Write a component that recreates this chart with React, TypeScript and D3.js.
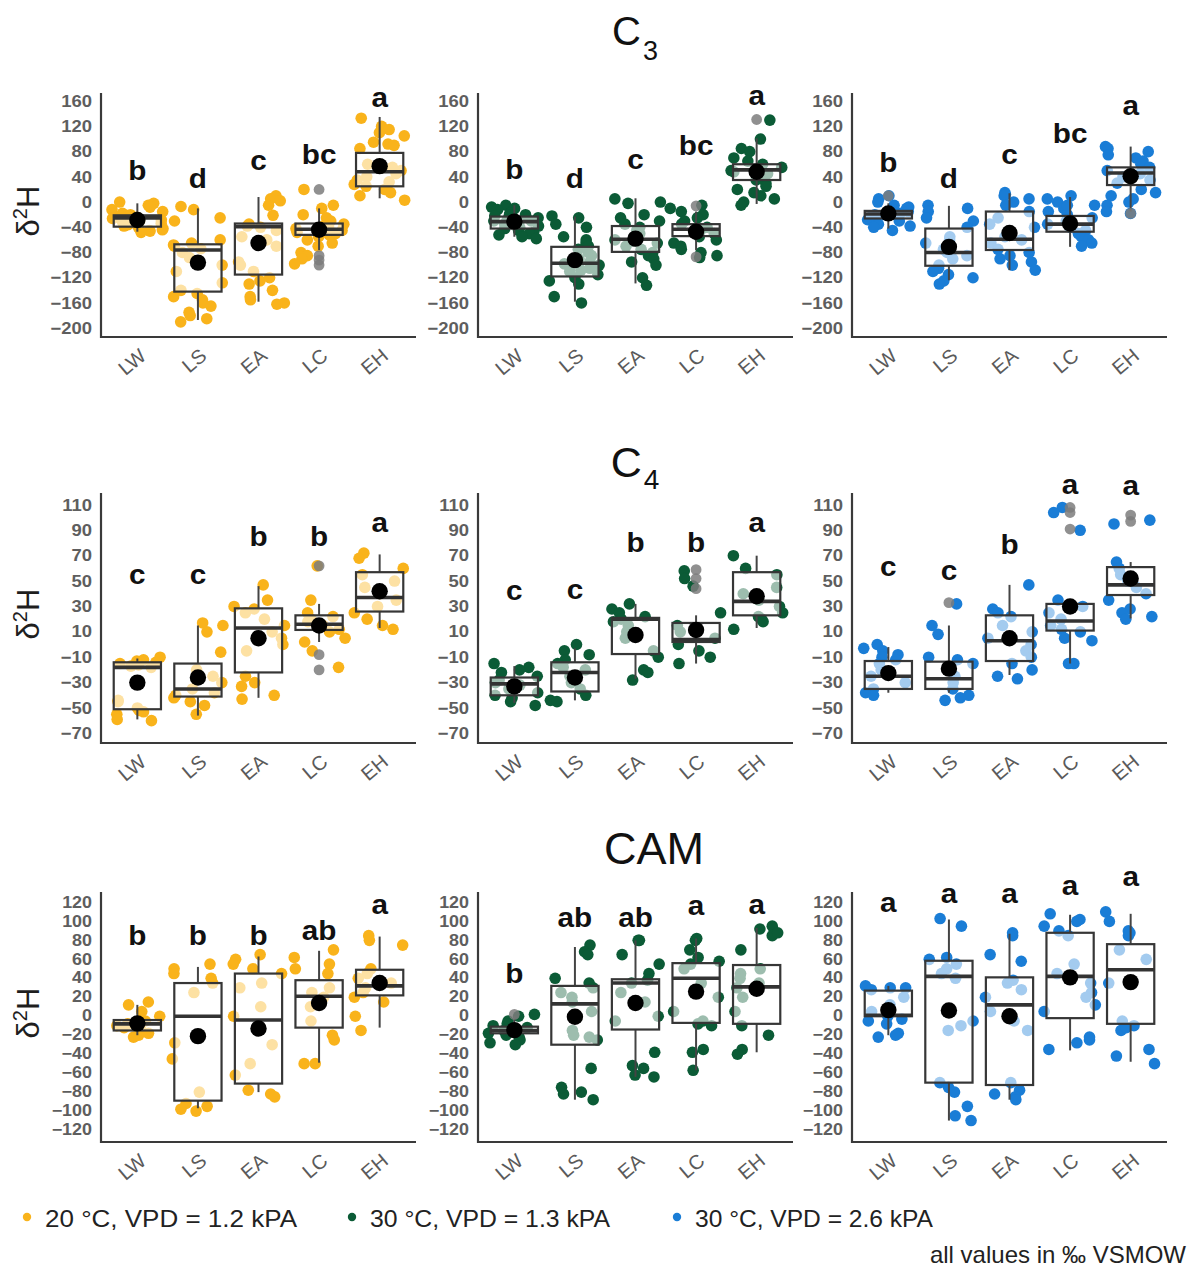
import React from "react";
import * as d3 from "d3";

// ---------- shared categories, labels and scales ----------
const categories = ["LW", "LS", "EA", "LC", "EH"];
const conditionLabels = ["20 °C, VPD = 1.2 kPA", "30 °C, VPD = 1.3 kPA", "30 °C, VPD = 2.6 kPA"];
const conditionColors = ["#F9B31B", "#0B5B36", "#1A7DD6"];
const pathwayNames = [
  { main: "C", sub: "3" },
  { main: "C", sub: "4" },
  { main: "CAM", sub: "" },
];

const ticksC3 = [160, 120, 80, 40, 0, -40, -80, -120, -160, -200];
const ticksC4 = [110, 90, 70, 50, 30, 10, -10, -30, -50, -70];
const ticksCAM = [120, 100, 80, 60, 40, 20, 0, -20, -40, -60, -80, -100, -120];
const domainC3 = [-214, 173];
const domainC4 = [-77.6, 119.4];
const domainCAM = [-132.6, 131];

// box statistics per category: [lower whisker, Q1, median, Q3, upper whisker, mean]
// ---------- C3 ----------
const c3Box20 = [
  [-47, -39, -25, -21, -2, -28.5],
  [-187, -142, -76, -67, -10, -96],
  [-158, -115, -39, -34, 8, -65],
  [-76, -52, -43, -34, -10, -44],
  [6, 25, 48, 78, 135, 57],
];
const c3Points20 = [
  [0, -2, -5, -8, -12, -15, -18, -20, -22, -24, -26, -28, -30, -32, -34, -36, -38, -40, -42, -44, -45, -46, -48, -30, -25],
  [-7, -12, -25, -30, -65, -68, -70, -74, -80, -88, -100, -110, -128, -140, -145, -150, -155, -160, -165, -175, -185, -190, -180, -60],
  [10, 5, 2, -5, -21, -35, -38, -40, -45, -55, -60, -70, -95, -100, -110, -125, -130, -140, -150, -155, -160, -162, -120],
  [20, -5, -10, -20, -25, -30, -35, -38, -40, -42, -45, -48, -50, -52, -55, -60, -65, -70, -80, -85, -90, -98],
  [133, 120, 115, 110, 105, 95, 92, 90, 85, 60, 55, 50, 45, 40, 35, 32, 28, 25, 20, 15, 10, 3],
];
const c3Out20 = [[], [], [], [20, -85, -92, -100], []];
const c3Letters20 = ["b", "d", "c", "bc", "a"];
const c3LetterY20 = [35, 23, 51, 61, 151];

const c3Box13 = [
  [-55, -42, -31, -23, -5, -31],
  [-158, -118, -97, -71, -23, -92],
  [-129, -79, -59, -38, 6, -58],
  [-76, -54, -43, -35, -15, -47],
  [-3, 35, 51, 60, 101, 48],
];
const c3Points13 = [
  [-5, -8, -10, -12, -15, -18, -20, -22, -25, -28, -30, -33, -35, -38, -40, -42, -45, -48, -50, -52, -55, -58, -20, -30],
  [-22, -25, -35, -40, -55, -60, -65, -70, -75, -80, -85, -90, -95, -100, -105, -110, -115, -120, -125, -130, -150, -160, -98, -108],
  [5, 0, -2, -20, -25, -30, -35, -40, -45, -50, -55, -60, -65, -70, -75, -80, -85, -90, -95, -100, -120, -132, -62],
  [-5, -10, -15, -20, -25, -30, -35, -40, -45, -50, -55, -60, -65, -70, -75, -80, -88, -85, -45],
  [130, 100, 85, 80, 70, 65, 60, 55, 50, 45, 40, 35, 30, 25, 20, 15, 10, 5, 0, -5, 48],
];
const c3Out13 = [[], [], [], [-6, -87], [131]];
const c3Letters13 = ["b", "d", "c", "bc", "a"];
const c3LetterY13 = [37, 22, 53, 74, 154];

const c3Box26 = [
  [-42, -26, -19, -14, -2, -18],
  [-124, -101, -80, -42, -6, -71],
  [-108, -76, -59, -15, 14, -49],
  [-71, -47, -35, -22, 8, -34],
  [-15, 27, 46, 55, 88, 41],
];
const c3Points26 = [
  [10, 5, 0, -5, -8, -10, -12, -15, -18, -20, -22, -25, -28, -30, -32, -35, -38, -40, -45, -20, -15],
  [-5, -10, -15, -25, -30, -40, -55, -60, -65, -75, -80, -90, -100, -105, -110, -115, -120, -125, -130, -85],
  [15, 12, 10, 5, 0, -5, -15, -25, -35, -40, -55, -60, -65, -75, -80, -85, -90, -95, -100, -108],
  [10, 5, 0, -5, -10, -15, -20, -25, -30, -35, -40, -45, -50, -55, -60, -65, -70, -5, -38],
  [88, 85, 80, 75, 70, 65, 60, 55, 50, 45, 40, 35, 30, 20, 15, 10, 5, 0, -5, -15, -18],
];
const c3Out26 = [[10], [], [], [], [-18]];
const c3Letters26 = ["b", "d", "c", "bc", "a"];
const c3LetterY26 = [48, 23, 61, 93, 138];

// ---------- C4 ----------
const c4Box20 = [
  [-59, -51, -18, -14, -11, -30],
  [-56, -41, -35, -15, 15, -26],
  [-42, -22, 13, 28.5, 46, 5],
  [2, 11.5, 16, 23, 32, 15],
  [13, 26, 37, 57, 71, 42],
];
const c4Points20 = [
  [-10, -12, -13, -14, -15, -16, -17, -18, -44, -45, -50, -52, -53, -55, -59, -60],
  [17, 15, 10, -6, -20, -25, -30, -35, -38, -40, -42, -45, -48, -55],
  [47, 35, 30, 28, 25, 20, 15, 10, 5, 0, -5, -25, -30, -33, -40, -43],
  [62, 35, 25, 22, 20, 18, 15, 12, 10, 5, 2, -5, -18],
  [72, 68, 60, 55, 50, 45, 40, 35, 30, 25, 20, 15, 12],
];
const c4Out20 = [[], [], [], [62, -8, -20], []];
const c4Letters20 = ["c", "c", "b", "b", "a"];
const c4LetterY20 = [48, 48, 78, 78, 89];

const c4Box13 = [
  [-46, -40, -31, -26, -17, -33],
  [-44, -37, -22, -14, -3, -26],
  [-27, -7.5, 20, 21, 32, 7.5],
  [-15, 2, 4, 17, 23, 11.5],
  [13, 23, 34, 57, 70, 38],
];
const c4Points13 = [
  [-15, -18, -20, -22, -25, -28, -30, -32, -35, -38, -40, -42, -45, -48],
  [0, -5, -8, -12, -15, -18, -20, -25, -30, -35, -40, -44, -45],
  [32, 28, 25, 22, 20, 18, 15, 10, 5, -5, -10, -20, -22, -28],
  [58, 52, 46, 25, 15, 10, 5, 0, -5, -10, -15],
  [70, 60, 55, 45, 40, 35, 30, 25, 22, 20, 18, 12],
];
const c4Out13 = [[], [], [], [59, 52, 44], []];
const c4Letters13 = ["c", "c", "b", "b", "a"];
const c4LetterY13 = [35, 36, 73, 73, 89];

const c4Box26 = [
  [-38, -35, -25, -13, -2, -22.5],
  [-38, -35, -27, -13.5, 15, -19],
  [-24, -13, 3, 23, 47, 5],
  [-15, 11, 18.5, 32, 35, 30],
  [20.5, 39, 47, 61, 65, 52],
];
const c4Points26 = [
  [0, -3, -5, -8, -10, -12, -15, -20, -25, -30, -35, -38, -40],
  [32, 15, 8, -10, -12, -15, -20, -25, -30, -35, -40, -42, -44],
  [47, 28, 25, 22, 15, 10, 5, 0, -5, -10, -15, -20, -25, -27],
  [108, 104, 90, 35, 30, 25, 20, 15, 12, 10, 5, 3, -15, -15],
  [98, 95, 65, 60, 55, 50, 45, 40, 35, 28, 25, 22, 20],
];
const c4Out26 = [[], [33], [], [108, 104, 91], [102, 97]];
const c4Letters26 = ["c", "c", "b", "a", "a"];
const c4LetterY26 = [54, 51, 71, 119, 118];

// ---------- CAM ----------
const camBox20 = [
  [-20, -15, -8, -4, 12, -7.5],
  [-97, -89, 0, 35, 52, -21],
  [-80, -71, -4, 45, 63, -13],
  [-49, -12, 21, 38, 69, 14],
  [-12, 22, 32, 49, 84, 35],
];
const camPoints20 = [
  [15, 12, 5, 0, -5, -8, -10, -12, -15, -18, -20, -22],
  [55, 50, 45, 40, 35, 25, -28, -45, -80, -92, -95, -98, -100],
  [65, 60, 55, 50, 45, 35, 30, 10, 0, -30, -50, -62, -82, -85, -78],
  [70, 62, 55, 50, 45, 30, 25, 20, 10, -5, -20, -25, -50, -50],
  [85, 80, 75, 50, 45, 40, 35, 30, 25, 20, 15, 0, -15],
];
const camOut20 = [[], [], [], [], []];
const camLetters20 = ["b", "b", "b", "ab", "a"];
const camLetterY20 = [75, 75, 75, 80, 108];

const camBox13 = [
  [-23, -18, -15, -11, 0, -14.6],
  [-88, -30, 13, 32, 73, -0.5],
  [-64, -14, 35, 39, 80, 14],
  [-57, -7, 40, 56, 82, 26],
  [-38, -8, 31, 54, 93, 29],
];
const camPoints13 = [
  [2, 0, -5, -8, -10, -12, -15, -18, -20, -22, -25, -28, -30],
  [75, 68, 65, 40, 35, 30, 25, 20, 15, 5, -15, -20, -25, -22, -55, -80, -82, -75, -88],
  [80, 80, 65, 55, 45, 38, 35, 25, 15, 0, -5, -38, -52, -55, -62, -64],
  [82, 80, 70, 62, 58, 55, 50, 35, 20, 5, -5, -8, -10, -38, -35, -57],
  [95, 92, 85, 88, 70, 50, 45, 40, 35, 30, 20, 5, -10, -20, -35, -40],
];
const camOut13 = [[2], [], [], [], []];
const camLetters13 = ["b", "ab", "ab", "a", "a"];
const camLetterY13 = [35, 94, 94, 107, 108];

const camBox26 = [
  [-20, 0, 1, 27, 32, 6.5],
  [-110, -70, 42, 58.5, 102, 6],
  [-88, -72.5, 12, 41, 87, 0],
  [-36, -2, 42, 88, 107, 41],
  [-48, -8, 49, 76, 108, 36],
];
const camPoints26 = [
  [32, 30, 28, 20, 12, 5, 0, -3, -5, -8, -18, -20, -22, 30],
  [103, 95, 62, 60, 55, 50, 45, 40, -5, -10, -15, -70, -75, -80, -95, -105, -110],
  [88, 85, 65, 58, 38, 35, 28, 20, 5, -5, -15, -70, -78, -82, -85, -88],
  [108, 102, 100, 95, 90, 85, 55, 45, 35, 25, 20, 5, 12, -25, -28, -35, -22],
  [110, 100, 90, 85, 88, 70, 60, 35, -5, -10, -15, -12, -35, -42, -50],
];
const camOut26 = [[], [], [], [], []];
const camLetters26 = ["a", "a", "a", "a", "a"];
const camLetterY26 = [110, 119, 119, 128, 137];

const legendNote = "all values in ‰ VSMOW";

type PanelData = {
  boxes: number[][];
  points: number[][];
  outliers: number[][];
  letters: string[];
  letterY: number[];
};

const rows = [
  {
    ticks: ticksC3,
    domain: domainC3,
    panels: [
      { boxes: c3Box20, points: c3Points20, outliers: c3Out20, letters: c3Letters20, letterY: c3LetterY20 },
      { boxes: c3Box13, points: c3Points13, outliers: c3Out13, letters: c3Letters13, letterY: c3LetterY13 },
      { boxes: c3Box26, points: c3Points26, outliers: c3Out26, letters: c3Letters26, letterY: c3LetterY26 },
    ],
  },
  {
    ticks: ticksC4,
    domain: domainC4,
    panels: [
      { boxes: c4Box20, points: c4Points20, outliers: c4Out20, letters: c4Letters20, letterY: c4LetterY20 },
      { boxes: c4Box13, points: c4Points13, outliers: c4Out13, letters: c4Letters13, letterY: c4LetterY13 },
      { boxes: c4Box26, points: c4Points26, outliers: c4Out26, letters: c4Letters26, letterY: c4LetterY26 },
    ],
  },
  {
    ticks: ticksCAM,
    domain: domainCAM,
    panels: [
      { boxes: camBox20, points: camPoints20, outliers: camOut20, letters: camLetters20, letterY: camLetterY20 },
      { boxes: camBox13, points: camPoints13, outliers: camOut13, letters: camLetters13, letterY: camLetterY13 },
      { boxes: camBox26, points: camPoints26, outliers: camOut26, letters: camLetters26, letterY: camLetterY26 },
    ],
  },
];

// ---------- layout ----------
const FONT = "'Liberation Sans', Arial, Helvetica, sans-serif";
const colLeft = [101, 478, 852];
const plotWidth = 315;
const rowBounds = [
  [93, 337],
  [493, 743],
  [892, 1142],
];
const titleLayout = [
  { x: 635, y: 45, size: 40, subSize: 27, subDy: 15 },
  { x: 635, y: 477, size: 43, subSize: 28, subDy: 12 },
  { x: 654, y: 864, size: 45, subSize: 28, subDy: 12 },
];
const axisColor = "#3a3a3a";
const tickColor = "#5e5e5e";

function Panel({
  data,
  color,
  left,
  top,
  bottom,
  ticks,
  domain,
  seed,
  showTitle,
  tickFont,
}: {
  data: PanelData;
  color: string;
  left: number;
  top: number;
  bottom: number;
  ticks: number[];
  domain: number[];
  seed: number;
  showTitle: boolean;
  tickFont: number;
}) {
  const x = d3.scalePoint<string>().domain(categories).range([left, left + plotWidth]).padding(0.6);
  const y = d3.scaleLinear().domain(domain).range([bottom, top]);
  const step = x.step();
  const boxW = step * 0.78;
  // fixed-seed horizontal jitter, as with geom_jitter
  const rand = d3.randomLcg(seed);

  const jittered = categories.flatMap((cat, ci) =>
    data.points[ci].map((v, i) => ({
      key: `${cat}-${i}`,
      cx: (x(cat) as number) + (rand() * 2 - 1) * 0.43 * step,
      cy: y(v),
    }))
  );

  return (
    <g>
      {showTitle && (
        <text
          transform={`translate(${left - 62},${(top + bottom) / 2 - 4}) rotate(-90)`}
          textAnchor="middle"
          fontSize={31}
          fill="#1e1e1e"
          fontFamily={FONT}
        >
          δ<tspan fontSize={20} dy={-12}>2</tspan>
          <tspan dy={12}>H</tspan>
        </text>
      )}

      {/* y tick labels */}
      {ticks.map((t) => (
        <text
          key={t}
          transform={`translate(${left - 9},${y(t)}) scale(1.12,1)`}
          textAnchor="end"
          dominantBaseline="central"
          fontSize={tickFont}
          fontWeight="bold"
          fill={tickColor}
          fontFamily={FONT}
        >
          {t < 0 ? `\u2212${Math.abs(t)}` : t}
        </text>
      ))}

      {/* x tick labels */}
      {categories.map((cat) => (
        <text
          key={cat}
          transform={`translate(${(x(cat) as number) + 10},${bottom + 21}) rotate(-40)`}
          textAnchor="end"
          fontSize={20}
          fill="#5a5a5a"
          fontFamily={FONT}
        >
          {cat}
        </text>
      ))}

      {/* raw observations */}
      {jittered.map((p) => (
        <circle key={p.key} cx={p.cx} cy={p.cy} r={5.8} fill={color} />
      ))}

      {/* boxplots */}
      {categories.map((cat, ci) => {
        const [lo, q1, med, q3, hi] = data.boxes[ci];
        const cx = x(cat) as number;
        return (
          <g key={cat}>
            <line x1={cx} x2={cx} y1={y(q3)} y2={y(hi)} stroke="#444" strokeWidth={2} />
            <line x1={cx} x2={cx} y1={y(q1)} y2={y(lo)} stroke="#444" strokeWidth={2} />
            <rect
              x={cx - boxW / 2}
              y={y(q3)}
              width={boxW}
              height={y(q1) - y(q3)}
              fill="#ffffff"
              fillOpacity={0.6}
              stroke="#363636"
              strokeWidth={2.2}
            />
            <line
              x1={cx - boxW / 2}
              x2={cx + boxW / 2}
              y1={y(med)}
              y2={y(med)}
              stroke="#333"
              strokeWidth={3.6}
            />
            {data.outliers[ci].map((v, i) => (
              <circle key={i} cx={cx} cy={y(v)} r={5.4} fill="#7d7d7d" fillOpacity={0.85} />
            ))}
          </g>
        );
      })}

      {/* group means */}
      {categories.map((cat, ci) => (
        <circle key={cat} cx={x(cat) as number} cy={y(data.boxes[ci][5])} r={8.2} fill="#000" />
      ))}

      {/* significance letters */}
      {categories.map((cat, ci) => (
        <text
          key={cat}
          transform={`translate(${x(cat) as number},${y(data.letterY[ci])}) scale(1.1,1)`}
          textAnchor="middle"
          fontSize={27}
          fontWeight="bold"
          fill="#111"
          fontFamily={FONT}
        >
          {data.letters[ci]}
        </text>
      ))}

      {/* axes */}
      <line x1={left} x2={left} y1={top} y2={bottom + 1} stroke={axisColor} strokeWidth={2.2} />
      <line x1={left - 1} x2={left + plotWidth} y1={bottom} y2={bottom} stroke={axisColor} strokeWidth={2.2} />
    </g>
  );
}

export default function App() {
  return (
    <svg
      width={1196}
      height={1270}
      style={{ position: "absolute", left: 0, top: 0, display: "block" }}
      fontFamily={FONT}
    >
      <rect width={1196} height={1270} fill="#ffffff" />

      {pathwayNames.map((p, ri) => {
        const t = titleLayout[ri];
        return (
          <text key={ri} x={t.x} y={t.y} textAnchor="middle" fontSize={t.size} fill="#111" fontFamily={FONT}>
            {p.main}
            {p.sub && (
              <tspan fontSize={t.subSize} dy={t.subDy} dx={2}>
                {p.sub}
              </tspan>
            )}
          </text>
        );
      })}

      {rows.map((row, ri) =>
        row.panels.map((panel, ci) => (
          <Panel
            key={`${ri}-${ci}`}
            data={panel}
            color={conditionColors[ci]}
            left={colLeft[ci]}
            top={rowBounds[ri][0]}
            bottom={rowBounds[ri][1]}
            ticks={row.ticks}
            domain={row.domain}
            seed={0.137 + ri * 0.211 + ci * 0.067}
            showTitle={ci === 0}
            tickFont={ri === 2 ? 16 : 16.5}
          />
        ))
      )}

      {/* legend */}
      {conditionLabels.map((label, i) => {
        const x0 = [27, 352, 677][i];
        const widths = [252, 240, 238];
        return (
          <g key={label}>
            <circle cx={x0} cy={1217} r={4.2} fill={conditionColors[i]} />
            <text
              x={x0 + 18}
              y={1227}
              fontSize={24}
              fill="#222"
              textLength={widths[i]}
              lengthAdjust="spacingAndGlyphs"
              fontFamily={FONT}
            >
              {label}
            </text>
          </g>
        );
      })}
      <text
        x={1186}
        y={1263}
        textAnchor="end"
        fontSize={24}
        fill="#222"
        fontFamily={FONT}
      >
        {legendNote}
      </text>
    </svg>
  );
}
